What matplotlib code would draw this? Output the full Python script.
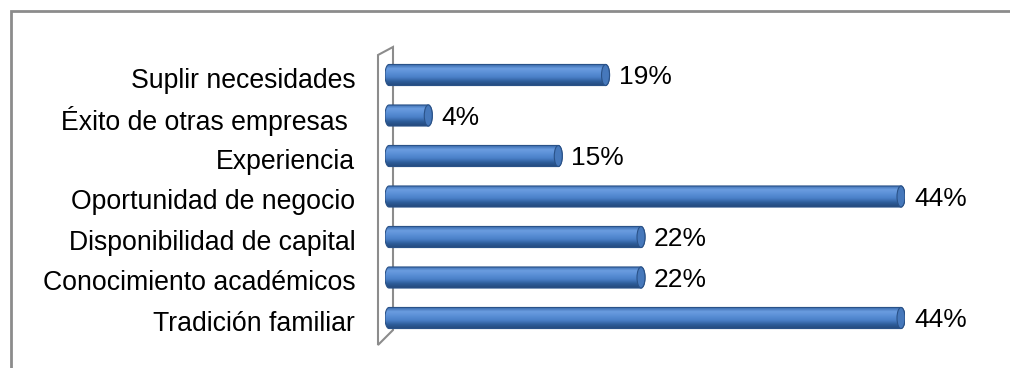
import matplotlib.pyplot as plt
import numpy as np
from matplotlib.patches import Rectangle, Polygon, Ellipse, PathPatch
from matplotlib.path import Path
from matplotlib.colors import LinearSegmentedColormap

plt.rcParams['font.family'] = ['Liberation Sans', 'DejaVu Sans']

categorias = ["Suplir necesidades", "Éxito de otras empresas ", "Experiencia",
              "Oportunidad de negocio", "Disponibilidad de capital",
              "Conocimiento académicos", "Tradición familiar"]
valores = [19, 4, 15, 44, 22, 22, 44]
etiquetas = ["19%", "4%", "15%", "44%", "22%", "22%", "44%"]

W, H = 1010, 368
fig = plt.figure(figsize=(W / 100, H / 100), dpi=100)


def px(x, y):
    # pixel position (from top-left) to figure fraction
    return (x / W, 1 - y / H)


# outer frame of the chart area
fig.add_artist(Rectangle(px(11, 500), 1200 / W, 489 / H, transform=fig.transFigure,
                         fill=False, edgecolor='#8c8c8c', linewidth=2, zorder=-2))

# 3d wall behind the bars
wall = Polygon([px(378, 55), px(393, 47), px(393, 330), px(378, 345)],
               closed=True, transform=fig.transFigure, facecolor='white',
               edgecolor='#8c8c8c', linewidth=1.5, zorder=-1)
fig.add_artist(wall)

left, right = 385, 905
top, bottom = 75 - 20.25, 318 + 20.25
ax = fig.add_axes([left / W, 1 - bottom / H, (right - left) / W, (bottom - top) / H])
ax.set_xlim(0, 44)
ax.set_ylim(len(categorias) - 0.5, -0.5)
ax.axis('off')
ax.patch.set_alpha(0)

grad = LinearSegmentedColormap.from_list(
    'cil', ['#3566a8', '#6b9de0', '#5a8fd6', '#4a80c8', '#2d5c99', '#24487a'])
gimg = np.linspace(0, 1, 64).reshape(-1, 1)

bh = 0.52
# x size of the rounded caps in data units (about 8 px)
cap = 8 * 44 / (right - left)
t = np.linspace(-np.pi / 2, np.pi / 2, 30)

for i, (v, lab) in enumerate(zip(valores, etiquetas)):
    y0, y1 = i - bh / 2, i + bh / 2
    # outline of a rod with elliptic ends
    rx = cap / 2
    right_pts = np.column_stack([v + rx * np.cos(t) - rx, i + bh / 2 * np.sin(t)])
    left_pts = np.column_stack([rx - rx * np.cos(t), i - bh / 2 * np.sin(t)])
    pts = np.vstack([right_pts, left_pts, right_pts[:1]])
    shape = PathPatch(Path(pts), facecolor='none', edgecolor='#2a5288', linewidth=0.8, zorder=3)
    ax.add_patch(shape)
    im = ax.imshow(gimg, cmap=grad, aspect='auto', extent=(0, v, y1, y0),
                   interpolation='bilinear', zorder=2)
    im.set_clip_path(shape)
    # end face of the rod
    ax.add_patch(Ellipse((v - rx, i), cap, bh, facecolor='#4678bb',
                         edgecolor='#2a5288', linewidth=0.8, zorder=4))
    ax.annotate(lab, (v, i), xytext=(6.5, -1.5), textcoords='offset points',
                ha='left', va='center', fontsize=19, color='black',
                annotation_clip=False)
    ax.annotate(categorias[i], (0, i), xytext=(-21.5, -4), textcoords='offset points',
                ha='right', va='center', fontsize=19.2, color='black',
                annotation_clip=False)

fig.savefig('out.png', dpi=100)
